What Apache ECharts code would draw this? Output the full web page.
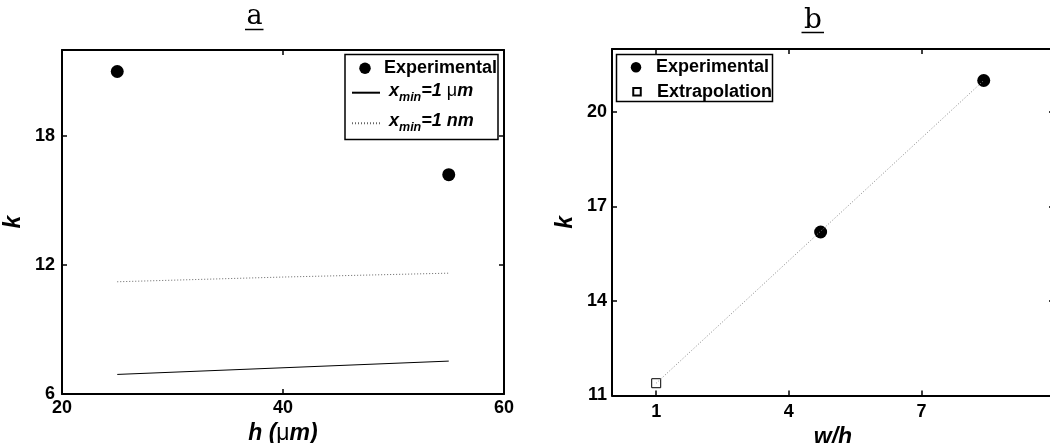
<!DOCTYPE html>
<html>
<head>
<meta charset="utf-8">
<script src="https://cdn.jsdelivr.net/npm/echarts@6/dist/echarts.min.js"></script>
<style>
html,body{margin:0;padding:0;background:#fff;}
#c{width:1050px;height:443px;}
</style>
</head>
<body>
<div id="c"></div>
<script>
// ---------- data (panel a) ----------
const aExpX = [25, 55];
const aExpY = [21.0, 16.2];
const aUmX = [25, 40, 55];
const aUmY = [6.91, 7.22, 7.53];
const aNmX = [25, 40, 55];
const aNmY = [11.22, 11.44, 11.62];
const aXTicks = [20, 40, 60];
const aYTicks = [6, 12, 18];

// ---------- data (panel b) ----------
const bExpX = [4.72, 8.41];
const bExpY = [16.19, 21.0];
const bExtX = [1];
const bExtY = [11.39];
const bFitX = [1, 8.41];
const bFitY = [11.39, 21.0];
const bXTicks = [1, 4, 7, 10];
const bXLabels = [1, 4, 7];
const bYTicks = [11, 14, 17, 20];

const pairs = (xs, ys) => xs.map((x, i) => [x, ys[i]]);

const FONT = 'Liberation Sans, Arial, Helvetica, sans-serif';
const lbl = (vals, margin, show) => ({
  show: show !== false, customValues: vals, margin: margin,
  color: '#000', fontFamily: FONT, fontWeight: 'bold', fontSize: 18
});
const tick = (vals) => ({ show: true, inside: true, length: 5, customValues: vals,
  lineStyle: { color: '#000', width: 1.5 } });
const line = { show: true, onZero: false, lineStyle: { color: '#000', width: 2 } };

const NAME_FS = 23;
const nameStyle = {
  color: '#000', fontFamily: FONT, fontWeight: 'bold', fontStyle: 'italic', fontSize: NAME_FS,
  rich: {
    i: { fontFamily: FONT, fontWeight: 'bold', fontStyle: 'italic', fontSize: NAME_FS, color: '#000' },
    u: { fontFamily: FONT, fontWeight: 'normal', fontStyle: 'normal', fontSize: NAME_FS, color: '#000' }
  }
};

const LFS = 18;
const legendRich = {
  m: { fontFamily: FONT, fontWeight: 'bold', fontStyle: 'italic', fontSize: LFS, lineHeight: 4, verticalAlign: 'top', color: '#000' },
  u: { fontFamily: FONT, fontWeight: 'normal', fontStyle: 'normal', fontSize: LFS, lineHeight: 4, verticalAlign: 'top', color: '#000' },
  s: { fontFamily: FONT, fontWeight: 'bold', fontStyle: 'italic', fontSize: 12.5, lineHeight: 16, verticalAlign: 'bottom', color: '#000' },
  z: { fontSize: LFS, lineHeight: 22 },
  p: { fontSize: LFS, lineHeight: 22, width: 4 }
};
const legendText = { color: '#000', fontFamily: FONT, fontWeight: 'bold', fontSize: LFS, lineHeight: 18, rich: legendRich };
const legendFmt = function (name) {
  if (name === 'x_min=1 μm') return '{p|}{m|x}{s|min}{m|=1 }{u|μ}{m|m}{z| }';
  if (name === 'x_min=1 nm') return '{p|}{m|x}{s|min}{m|=1 nm}{z| }';
  return name;
};
const mkLegend = (name, left, top, iw, ih, icon, hideSym) => {
  const lg = {
    data: [icon ? { name: name, icon: icon } : name],
    left: left, top: top, padding: 0, itemWidth: iw, itemHeight: ih,
    selectedMode: false, orient: 'vertical', textStyle: legendText, formatter: legendFmt, z: 10
  };
  if (hideSym) lg.itemStyle = { opacity: 0 };
  return lg;
};

const chart = echarts.init(document.getElementById('c'), null, { renderer: 'canvas' });
chart.setOption({
  animation: false,
  backgroundColor: '#fff',
  grid: [
    { left: 62, top: 50, width: 442, height: 344, show: false, outerBoundsMode: 'none', containLabel: false },
    { left: 612, top: 49, width: 442, height: 346.5, show: false, outerBoundsMode: 'none', containLabel: false }
  ],
  xAxis: [
    { gridIndex: 0, type: 'value', min: 20, max: 60, position: 'bottom', axisLine: line,
      axisTick: tick(aXTicks), axisLabel: lbl(aXTicks, 5), splitLine: { show: false },
      name: '{i|h (}{u|μ}{i|m)}', nameLocation: 'middle', nameGap: 24, nameTextStyle: nameStyle },
    { gridIndex: 0, type: 'value', min: 20, max: 60, position: 'top', axisLine: line,
      axisTick: tick(aXTicks), axisLabel: { show: false }, splitLine: { show: false } },
    { gridIndex: 1, type: 'value', min: 0, max: 10, position: 'bottom', axisLine: line,
      axisTick: tick(bXTicks), axisLabel: lbl(bXLabels, 8), splitLine: { show: false },
      name: 'w/h', nameLocation: 'middle', nameGap: 27, nameTextStyle: nameStyle },
    { gridIndex: 1, type: 'value', min: 0, max: 10, position: 'top', axisLine: line,
      axisTick: tick(bXTicks), axisLabel: { show: false }, splitLine: { show: false } }
  ],
  yAxis: [
    { gridIndex: 0, type: 'value', min: 6, max: 22, position: 'left', axisLine: line,
      axisTick: tick(aYTicks), axisLabel: lbl(aYTicks, 7), splitLine: { show: false },
      name: 'k', nameLocation: 'middle', nameGap: 37, nameRotate: 90, nameTextStyle: nameStyle },
    { gridIndex: 0, type: 'value', min: 6, max: 22, position: 'right', axisLine: line,
      axisTick: tick(aYTicks), axisLabel: { show: false }, splitLine: { show: false } },
    { gridIndex: 1, type: 'value', min: 11, max: 22, position: 'left', axisLine: line,
      axisTick: tick(bYTicks), axisLabel: lbl(bYTicks, 5), splitLine: { show: false },
      name: 'k', nameLocation: 'middle', nameGap: 35, nameRotate: 90, nameTextStyle: nameStyle },
    { gridIndex: 1, type: 'value', min: 11, max: 22, position: 'right', axisLine: line,
      axisTick: tick(bYTicks), axisLabel: { show: false }, splitLine: { show: false } }
  ],
  legend: [
    mkLegend('Experimental', 359.25, 59.3, 28, 11.5),
    mkLegend('x_min=1 μm', 351, 81.7, 28, 11, null, true),
    mkLegend('x_min=1 nm', 351, 112.3, 28, 11, null, true),
    mkLegend('Experimental', 630.75, 58.3, 30, 10.5),
    mkLegend('Extrapolation', 632.25, 82.7, 30, 7.5, 'path://M0,0H10V10H0Z')
  ],
  graphic: [
    { type: 'rect', z: 5, shape: { x: 345, y: 54.5, width: 153, height: 85 },
      style: { fill: '#fff', stroke: '#000', lineWidth: 1.5 } },
    { type: 'rect', z: 5, shape: { x: 616.5, y: 54.5, width: 156, height: 47 },
      style: { fill: '#fff', stroke: '#000', lineWidth: 1.5 } },
    { type: 'text', z: 5, style: { text: 'a', x: 254.5, y: 17, textAlign: 'center', textVerticalAlign: 'middle',
      font: '27px "DejaVu Serif", serif', fill: '#000' } },
    { type: 'line', z: 5, shape: { x1: 245, y1: 29.5, x2: 263.5, y2: 29.5 }, style: { stroke: '#000', lineWidth: 1.5 } },
    { type: 'text', z: 5, style: { text: 'b', x: 813, y: 21, textAlign: 'center', textVerticalAlign: 'middle',
      font: '28px "DejaVu Serif", serif', fill: '#000' } },
    { type: 'line', z: 5, shape: { x1: 801.5, y1: 32.5, x2: 824, y2: 32.5 }, style: { stroke: '#000', lineWidth: 1.5 } }
  ],
  series: [
    { name: 'x_min=1 μm', type: 'line', xAxisIndex: 0, yAxisIndex: 0, data: pairs(aUmX, aUmY),
      symbol: 'none', lineStyle: { color: '#000', width: 1 }, itemStyle: { color: '#000' } },
    { name: 'x_min=1 nm', type: 'line', xAxisIndex: 0, yAxisIndex: 0, data: pairs(aNmX, aNmY),
      symbol: 'none', lineStyle: { color: '#666', width: 1, type: [1, 2] }, itemStyle: { color: '#666' } },
    { name: 'Experimental', type: 'scatter', xAxisIndex: 0, yAxisIndex: 0, data: pairs(aExpX, aExpY),
      symbol: 'circle', symbolSize: 13, itemStyle: { color: '#000', opacity: 1 } },
    { name: 'fit', type: 'line', xAxisIndex: 2, yAxisIndex: 2, data: pairs(bFitX, bFitY),
      symbol: 'none', lineStyle: { color: '#888', width: 1, type: [1, 2] } },
    { name: 'Experimental', type: 'scatter', xAxisIndex: 2, yAxisIndex: 2, data: pairs(bExpX, bExpY),
      symbol: 'circle', symbolSize: 13, itemStyle: { color: '#000', opacity: 1 } },
    { name: 'Extrapolation', type: 'scatter', xAxisIndex: 2, yAxisIndex: 2, data: pairs(bExtX, bExtY),
      symbol: 'rect', symbolSize: 9, symbolKeepAspect: true,
      itemStyle: { color: '#fff', borderColor: '#000', borderWidth: 1, opacity: 1 } }
  ]
});
</script>
</body>
</html>
